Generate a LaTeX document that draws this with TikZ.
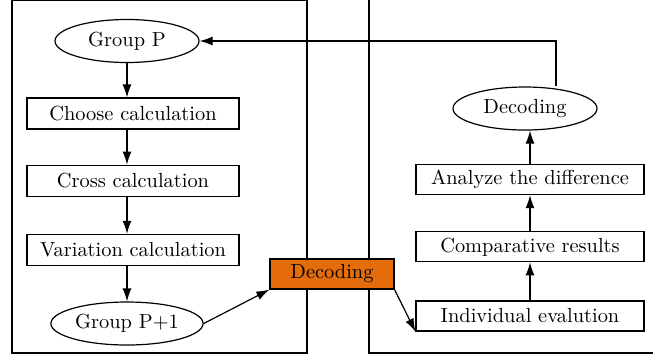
\documentclass[tikz,border=0pt]{standalone}
\usetikzlibrary{arrows.meta,positioning,shapes.geometric}
\definecolor{decorange}{RGB}{228,108,10}

\begin{document}
\begin{tikzpicture}[
  x=0.5pt, y=-0.5pt,
  font=\fontsize{10.2}{12}\selectfont,
  box/.style={draw, semithick, minimum width=106pt, minimum height=15.5pt, inner sep=1pt},
  rbox/.style={box, minimum width=114pt, minimum height=15pt},
  oval/.style={draw, semithick, ellipse, minimum width=72pt, minimum height=21.5pt, inner sep=1pt},
  arrow/.style={-{Latex[length=6.5pt,width=4.5pt]}, semithick}
]
\useasboundingbox (0,0) rectangle (653,361);

% panels
\draw[semithick] (12,0) rectangle (307,353);
\draw[semithick] (369,-5) -- (369,353) -- (660,353);

% left column
\node[oval] (gp) at (127,41) {Group P};
\node[box] (choose) at (133,113.5) {Choose calculation};
\node[box, below=17.5pt of choose] (cross) {Cross calculation};
\node[box, below=18.5pt of cross] (var) {Variation calculation};
\node[oval] (gp1) at (127,323.5) {Group P+1};

% middle
\node[box, fill=decorange, minimum width=62pt, minimum height=15pt] (dec) at (332,274) {Decoding};

% right column
\node[rbox] (indiv) at (530,316) {Individual evalution};
\node[rbox, above=19pt of indiv] (comp) {Comparative results};
\node[rbox, above=18pt of comp] (anal) {Analyze the difference};
\node[oval] (dec2) at (525,108.5) {Decoding};

\draw[arrow] (gp.south) -- (gp.south |- choose.north);
\draw[arrow] (gp.south |- choose.south) -- (gp.south |- cross.north);
\draw[arrow] (gp.south |- cross.south) -- (gp.south |- var.north);
\draw[arrow] (gp.south |- var.south) -- (gp1.north);

\draw[arrow] (gp1.east) -- (dec.south west);
\draw[arrow] (dec.south east) -- (indiv.south west);

\draw[arrow] (indiv.north) -- (comp.south);
\draw[arrow] (comp.north) -- (anal.south);
\draw[arrow] (anal.north) -- (anal.north |- dec2.south);
\draw[arrow] (dec2.north -| 556,0) -- (556,41) -- (gp.east);
\end{tikzpicture}
\end{document}
